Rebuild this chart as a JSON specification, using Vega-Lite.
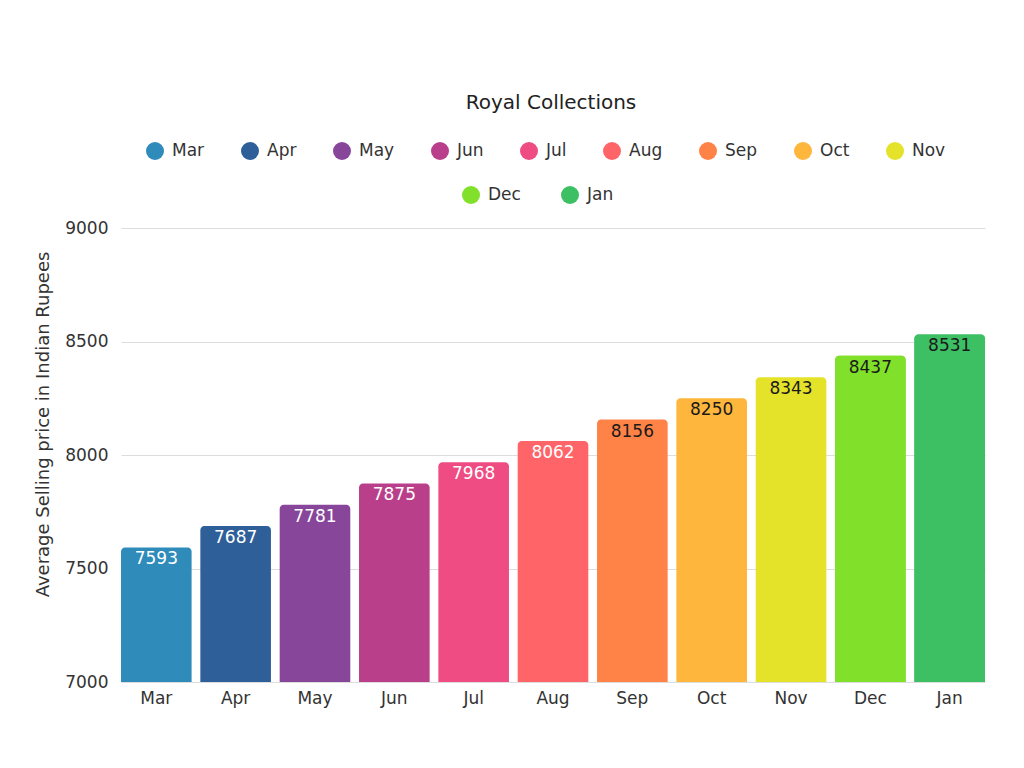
{
  "$schema": "https://vega.github.io/schema/vega-lite/v6.json",
  "width": 864,
  "height": 454,
  "autosize": {"type": "none"},
  "padding": {"left": 121, "top": 228, "right": 39, "bottom": 86},
  "background": "white",
  "title": {
    "text": "Royal Collections",
    "anchor": "middle",
    "fontSize": 20,
    "fontWeight": "normal",
    "font": "DejaVu Sans",
    "color": "#222222",
    "offset": 29,
    "dx": -2
  },
  "data": {
    "values": [
      {"month": "Mar", "price": 7593},
      {"month": "Apr", "price": 7687},
      {"month": "May", "price": 7781},
      {"month": "Jun", "price": 7875},
      {"month": "Jul", "price": 7968},
      {"month": "Aug", "price": 8062},
      {"month": "Sep", "price": 8156},
      {"month": "Oct", "price": 8250},
      {"month": "Nov", "price": 8343},
      {"month": "Dec", "price": 8437},
      {"month": "Jan", "price": 8531}
    ]
  },
  "encoding": {
    "x": {
      "field": "month",
      "type": "nominal",
      "sort": null,
      "title": null,
      "scale": {"paddingInner": 0.11, "paddingOuter": 0},
      "axis": {
        "labelAngle": 0,
        "ticks": false,
        "domain": false,
        "labelPadding": 8,
        "labelFontSize": 17,
        "labelColor": "#333333",
        "labelFont": "DejaVu Sans"
      }
    },
    "y": {
      "field": "price",
      "type": "quantitative",
      "scale": {"domain": [7000, 9000], "nice": false, "zero": false},
      "title": "Average Selling price in Indian Rupees",
      "axis": {
        "values": [7000, 7500, 8000, 8500, 9000],
        "format": "d",
        "ticks": false,
        "domain": false,
        "labelPadding": 13,
        "labelFontSize": 17,
        "labelColor": "#333333",
        "labelFont": "DejaVu Sans",
        "gridColor": "#dddddd",
        "titleFont": "DejaVu Sans",
        "titleFontSize": 18,
        "titleFontWeight": "normal",
        "titleColor": "#333333",
        "titleBaseline": "alphabetic",
        "titleX": -73,
        "titleY": 196
      }
    }
  },
  "layer": [
    {
      "mark": {"type": "bar", "cornerRadiusTopLeft": 4, "cornerRadiusTopRight": 4},
      "encoding": {
        "y2": {"datum": 7000},
        "fill": {
          "field": "month",
          "type": "nominal",
          "scale": {
            "domain": ["Mar", "Apr", "May", "Jun", "Jul", "Aug", "Sep", "Oct", "Nov", "Dec", "Jan"],
            "range": ["#2e8bba", "#2f5f98", "#88469b", "#ba3f8b", "#ee4c82", "#ff6469", "#ff8347", "#feb63d", "#e5e22a", "#80e02a", "#3dbf63"]
          },
          "legend": {
            "title": null,
            "orient": "none",
            "legendX": 25,
            "legendY": -86,
            "direction": "horizontal",
            "columns": 9,
            "values": ["Mar", "Apr", "May", "Jun", "Jul", "Aug", "Sep", "Oct", "Nov"],
            "symbolType": "circle",
            "symbolSize": 324,
            "symbolStrokeWidth": 0,
            "labelFontSize": 17,
            "labelFont": "DejaVu Sans",
            "labelColor": "#333333",
            "labelOffset": 8,
            "columnPadding": 36
          }
        }
      }
    },
    {
      "transform": [{"filter": {"field": "month", "oneOf": ["Dec", "Jan"]}}],
      "mark": {"type": "bar", "cornerRadiusTopLeft": 4, "cornerRadiusTopRight": 4},
      "encoding": {
        "y2": {"datum": 7000},
        "color": {
          "field": "month",
          "type": "nominal",
          "scale": {"domain": ["Dec", "Jan"], "range": ["#80e02a", "#3dbf63"]},
          "legend": {
            "title": null,
            "orient": "none",
            "legendX": 341,
            "legendY": -42,
            "direction": "horizontal",
            "columns": 2,
            "symbolType": "circle",
            "symbolSize": 324,
            "symbolStrokeWidth": 0,
            "labelFontSize": 17,
            "labelFont": "DejaVu Sans",
            "labelColor": "#333333",
            "labelOffset": 8,
            "columnPadding": 40
          }
        }
      }
    },
    {
      "mark": {"type": "text", "baseline": "middle", "dy": 12, "fontSize": 17, "font": "DejaVu Sans"},
      "encoding": {
        "text": {"field": "price", "type": "quantitative", "format": "d"},
        "color": {
          "condition": {"test": "indexof(['Mar','Apr','May','Jun','Jul','Aug'], datum.month) >= 0", "value": "#ffffff"},
          "value": "#1a1a1a"
        }
      }
    }
  ],
  "config": {"view": {"stroke": null}}
}
